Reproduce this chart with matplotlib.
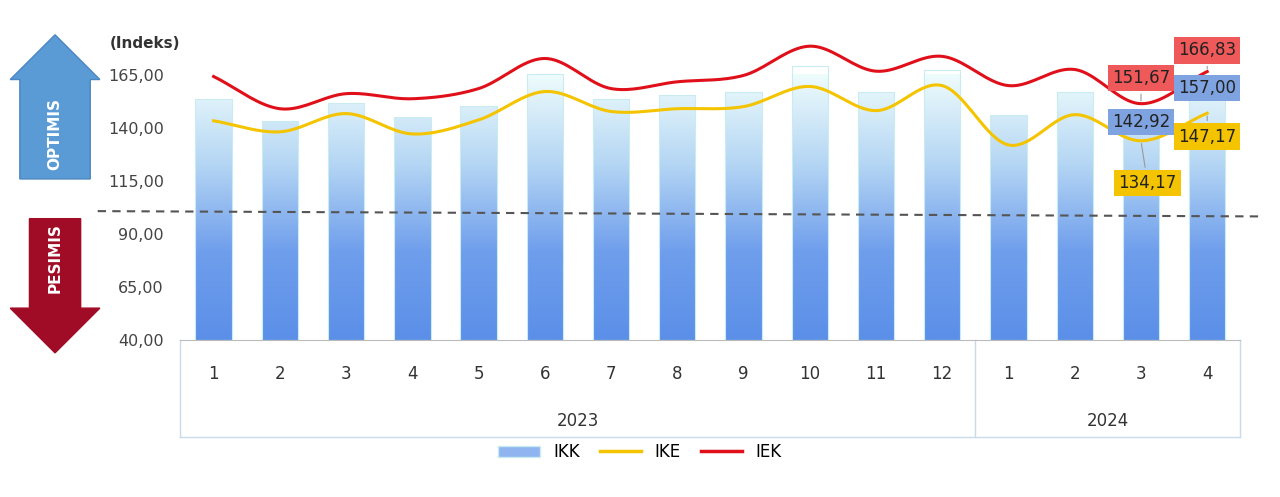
import numpy as np
import matplotlib
matplotlib.use("Agg")
import matplotlib.pyplot as plt
from matplotlib.patches import FancyArrow, Patch
from matplotlib.lines import Line2D
from matplotlib.colors import LinearSegmentedColormap

months = ["1","2","3","4","5","6","7","8","9","10","11","12","1","2","3","4"]
years = ["2023", "2024"]
year_counts = [12, 4]
ikk = [154.0,143.6,152.0,145.5,150.7,165.5,154.0,156.0,157.0,169.3,157.4,167.4,146.5,157.4,142.92,157.00]
ike = [143.6,138.4,147.0,137.4,144.0,157.4,148.0,149.3,150.3,159.8,148.4,160.2,132.2,146.5,134.17,147.17]
iek = [164.5,149.3,156.4,154.0,158.8,173.0,158.8,162.0,165.0,178.8,167.0,174.0,160.2,167.8,151.67,166.83]
yticks = [40,65,90,115,140,165]
threshold = 100

def smooth(x, y, n=20):
    x = np.asarray(x, float); y = np.asarray(y, float)
    P = np.column_stack([x, y])
    P = np.vstack([2*P[0]-P[1], P, 2*P[-1]-P[-2]])
    out = []
    t = np.linspace(0, 1, n, endpoint=False)[:, None]
    for i in range(1, len(P)-2):
        p0, p1, p2, p3 = P[i-1], P[i], P[i+1], P[i+2]
        out.append(0.5*((2*p1) + (-p0+p2)*t + (2*p0-5*p1+4*p2-p3)*t**2 + (-p0+3*p1-3*p2+p3)*t**3))
    out.append(P[-2][None, :])
    o = np.vstack(out)
    return o[:, 0], o[:, 1]

fig = plt.figure(figsize=(12.8, 4.97), dpi=100)
ax = fig.add_axes([0.141, 0.315, 0.828, 0.61])
x = np.arange(len(months))
ymin, ymax = 40, 183
ax.set_xlim(-0.5, len(months)-0.5)
ax.set_ylim(ymin, ymax)

grad = np.linspace(0, 1, 256)[:, None]
cmap = LinearSegmentedColormap.from_list("g", ["#5b8fe8", "#6f9eec", "#b5d6f4", "#eefcfc"])
bars = ax.bar(x, np.array(ikk)-ymin, bottom=ymin, width=0.55, color="none",
              edgecolor="#c8ecf0", linewidth=0.8, zorder=2)
for b in bars:
    bx = b.get_x()
    im = ax.imshow(grad, extent=[bx, bx+b.get_width(), ymin, 165], origin="lower",
                   cmap=cmap, aspect="auto", zorder=1)
    im.set_clip_path(b)

xs, ys = smooth(x, ike)
ax.plot(xs, ys, color="#f5c400", lw=2.2, zorder=3)
xs, ys = smooth(x, iek)
ax.plot(xs, ys, color="#e0101a", lw=2.2, zorder=3)
ax.add_line(Line2D([-1.75, 15.8], [threshold+1, threshold-1.5], color="#555555", ls=(0, (4, 3)), lw=1.5,
                   zorder=4, clip_on=False))

ax.set_yticks(yticks)
ax.set_yticklabels([f"{v:.2f}".replace(".", ",") for v in yticks], fontsize=11.5, color="#444444")
ax.tick_params(axis="y", length=0, pad=12)
ax.set_xticks([])
for s in ["top", "right", "left"]:
    ax.spines[s].set_visible(False)
ax.spines["bottom"].set_color("#bbbbbb")

xt = ax.get_xaxis_transform()
for i, m in enumerate(months):
    ax.text(i, -0.11, m, transform=xt, ha="center", va="center", fontsize=12, color="#333333")
start = 0
bounds = [-0.5]
for yname, c in zip(years, year_counts):
    ax.text(start + (c-1)/2, -0.265, yname, transform=xt, ha="center", va="center", fontsize=12, color="#333333")
    start += c
    bounds.append(start-0.5)
for bnd in bounds:
    ax.add_line(Line2D([bnd, bnd], [0, -0.32], transform=xt, color="#c9dbe8", lw=1, clip_on=False))
ax.add_line(Line2D([-0.5, 15.5], [-0.32, -0.32], transform=xt, color="#c9dbe8", lw=1, clip_on=False))

ax.text(-0.5, 180, "(Indeks)", ha="right", va="center", fontsize=11, fontweight="bold", color="#333333")

def box(xi, yv, txt, fc, dx, dy):
    ax.annotate(txt, (xi, yv), xytext=(xi+dx, yv+dy), fontsize=12, color="#222222", ha="center", va="center",
                bbox=dict(boxstyle="square,pad=0.25", fc=fc, ec="none"),
                arrowprops=dict(arrowstyle="-", color="#999999", lw=0.8), zorder=6)
box(14, iek[14], "151,67", "#f0595a", 0, 12)
box(15, iek[15], "166,83", "#f0595a", 0, 10)
box(14, ikk[14], "142,92", "#7fa3e0", 0, 0.01)
box(15, ikk[15], "157,00", "#7fa3e0", 0, 2)
box(14, ike[14], "134,17", "#f5c400", 0.1, -20)
box(15, ike[15], "147,17", "#f5c400", 0, -11)

fig.patches.append(FancyArrow(0.043, 0.64, 0, 0.29, width=0.055, head_width=0.07, head_length=0.09,
                              length_includes_head=True, transform=fig.transFigure, color="#5b9bd5", ec="#4a86c0"))
fig.text(0.043, 0.73, "OPTIMIS", rotation=90, ha="center", va="center", color="white", fontsize=11, fontweight="bold")
fig.patches.append(FancyArrow(0.043, 0.56, 0, -0.27, width=0.04, head_width=0.07, head_length=0.09,
                              length_includes_head=True, transform=fig.transFigure, color="#a00c25"))
fig.text(0.043, 0.48, "PESIMIS", rotation=90, ha="center", va="center", color="white", fontsize=11, fontweight="bold")

handles = [Patch(facecolor="#8fb4f0", edgecolor="#c8ecf0"),
           Line2D([], [], color="#f5c400", lw=2.5), Line2D([], [], color="#e0101a", lw=2.5)]
fig.legend(handles, ["IKK", "IKE", "IEK"], loc="center", bbox_to_anchor=(0.5, 0.09), ncol=3,
           frameon=False, fontsize=12, handlelength=2.5, columnspacing=1.2)

fig.savefig("out.png", dpi=100)
